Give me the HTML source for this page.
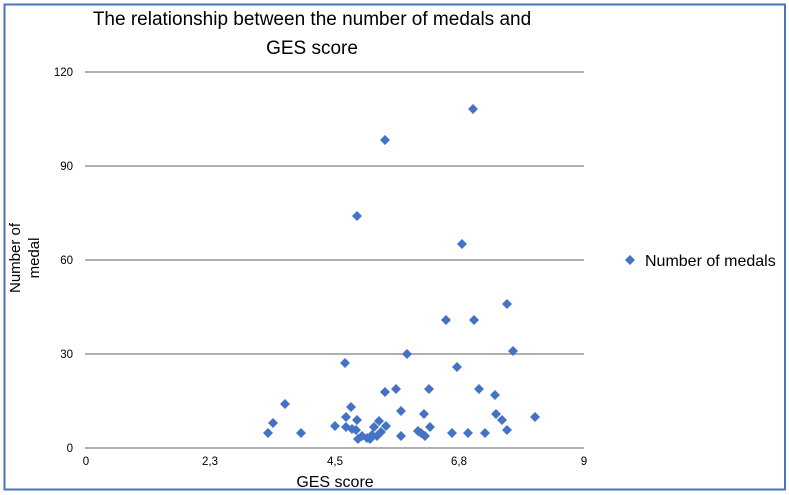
<!DOCTYPE html>
<html><head><meta charset="utf-8"><style>
html,body{margin:0;padding:0;background:#fff;}
svg{display:block;font-family:"Liberation Sans",sans-serif;}
</style></head><body>
<svg width="789" height="495" viewBox="0 0 789 495" xmlns="http://www.w3.org/2000/svg">
<rect x="0" y="0" width="789" height="495" fill="#fff"/>
<rect x="4.5" y="4.5" width="780.5" height="485" fill="none" stroke="#4a74b8" stroke-width="2"/>
<text x="312" y="25" font-size="19" text-anchor="middle" fill="#000">The relationship between the number of medals and</text>
<text x="312" y="54" font-size="19" text-anchor="middle" fill="#000">GES score</text>
<g stroke="#808080" stroke-width="1.3">
<line x1="85" y1="72" x2="584" y2="72"/>
<line x1="85" y1="166" x2="584" y2="166"/>
<line x1="85" y1="260" x2="584" y2="260"/>
<line x1="85" y1="354" x2="584" y2="354"/>
<line x1="85" y1="448" x2="584" y2="448"/>
</g>
<g font-size="11.5" fill="#000" text-anchor="end">
<text x="73" y="76">120</text>
<text x="73" y="170">90</text>
<text x="73" y="264">60</text>
<text x="73" y="358">30</text>
<text x="73" y="452">0</text>
</g>
<g font-size="11.5" fill="#000" text-anchor="middle">
<text x="86" y="465">0</text>
<text x="210" y="465">2,3</text>
<text x="335" y="465">4,5</text>
<text x="459" y="465">6,8</text>
<text x="584" y="465">9</text>
</g>
<text x="335" y="487" font-size="16" text-anchor="middle" fill="#000">GES score</text>
<text transform="translate(20,258) rotate(-90)" font-size="15" text-anchor="middle" fill="#000">Number of</text>
<text transform="translate(39,258) rotate(-90)" font-size="15" text-anchor="middle" fill="#000">medal</text>
<path d="M630,255l5,5l-5,5l-5,-5z" fill="#4472c4"/>
<text x="645" y="266" font-size="16" fill="#000">Number of medals</text>
<defs><path id="m" d="M0,-5L5,0L0,5L-5,0Z"/></defs>
<g fill="#4472c4">
<use href="#m" x="268" y="433"/><use href="#m" x="273" y="423"/><use href="#m" x="285" y="404"/><use href="#m" x="301" y="433"/>
<use href="#m" x="335" y="426"/><use href="#m" x="345" y="363"/><use href="#m" x="346" y="417"/><use href="#m" x="346" y="427"/>
<use href="#m" x="351" y="407"/><use href="#m" x="352" y="429"/><use href="#m" x="357" y="216"/><use href="#m" x="357" y="420"/>
<use href="#m" x="356" y="430"/><use href="#m" x="358" y="439"/><use href="#m" x="362" y="436"/><use href="#m" x="367" y="438"/>
<use href="#m" x="370" y="439"/><use href="#m" x="372" y="435"/><use href="#m" x="374" y="427"/><use href="#m" x="377" y="436"/>
<use href="#m" x="379" y="421"/><use href="#m" x="381" y="432"/><use href="#m" x="385" y="140"/><use href="#m" x="385" y="392"/>
<use href="#m" x="386" y="426"/><use href="#m" x="396" y="389"/><use href="#m" x="401" y="411"/><use href="#m" x="401" y="436"/>
<use href="#m" x="407" y="354"/><use href="#m" x="418" y="431"/><use href="#m" x="421" y="433"/><use href="#m" x="424" y="414"/>
<use href="#m" x="425" y="436"/><use href="#m" x="429" y="389"/><use href="#m" x="430" y="427"/><use href="#m" x="446" y="320"/>
<use href="#m" x="452" y="433"/><use href="#m" x="457" y="367"/><use href="#m" x="462" y="244"/><use href="#m" x="468" y="433"/>
<use href="#m" x="473" y="109"/><use href="#m" x="474" y="320"/><use href="#m" x="479" y="389"/><use href="#m" x="485" y="433"/>
<use href="#m" x="495" y="395"/><use href="#m" x="496" y="414"/><use href="#m" x="502" y="420"/><use href="#m" x="507" y="304"/>
<use href="#m" x="507" y="430"/><use href="#m" x="513" y="351"/><use href="#m" x="535" y="417"/>
</g>
</svg>
</body></html>
